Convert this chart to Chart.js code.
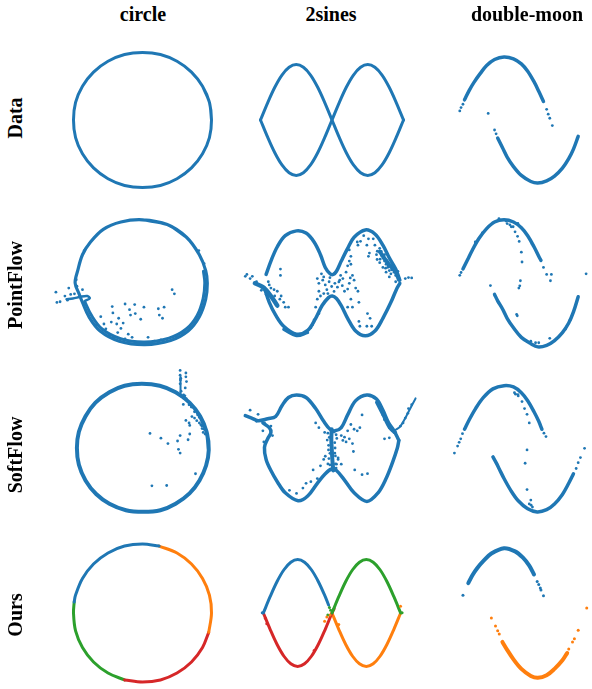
<!DOCTYPE html>
<html>
<head>
<meta charset="utf-8">
<script src="https://cdn.jsdelivr.net/npm/chart.js@4.4.1/dist/chart.umd.min.js"></script>
<style>
  body { margin: 0; background: #fff; width: 592px; height: 689px; position: relative; overflow: hidden; }
  canvas { position: absolute; }
  .lbl { position: absolute; font-family: "Liberation Serif", "Times New Roman", serif; font-weight: bold;
         font-size: 20px; color: #000; white-space: nowrap; transform: translate(-50%, -50%); }
  .rot { transform: translate(-50%, -50%) rotate(-90deg); }
</style>
</head>
<body>
<script>
"use strict";

const BLUE = "#1f77b4", ORANGE = "#ff7f0e", GREEN = "#2ca02c", RED = "#d62728";

const colTitles = ["circle", "2sines", "double-moon"];
const rowTitles = ["Data", "PointFlow", "SoftFlow", "Ours"];

// ---- circle column (unit radius) ----
const circleData = [[1,0],[0.97,0.26],[0.87,0.5],[0.71,0.71],[0.5,0.87],[0.26,0.97],[0,1],[-0.26,0.97],[-0.5,0.87],[-0.71,0.71],[-0.87,0.5],[-0.97,0.26],[-1,0],[-0.97,-0.26],[-0.87,-0.5],[-0.71,-0.71],[-0.5,-0.87],[-0.26,-0.97],[0,-1],[0.26,-0.97],[0.5,-0.87],[0.71,-0.71],[0.87,-0.5],[0.97,-0.26],[1,0],[0.97,0.26],[0.87,0.5]];

const circlePF = [[0,0.975],[0.374,0.902],[0.664,0.706],[0.858,0.436],[0.954,0.191],[0.978,-0.005],[0.954,-0.25],[0.858,-0.52],[0.688,-0.74],[0.423,-0.887],[0.036,-0.951],[-0.35,-0.897],[-0.64,-0.74],[-0.809,-0.52],[-0.906,-0.3],[-0.954,-0.176],[-1.017,0],[-0.978,0.19],[-0.906,0.436],[-0.785,0.632],[-0.592,0.828],[-0.326,0.941],[0,0.975],[0.374,0.902],[0.664,0.706]];
const circlePFInner = [[-0.87,-0.29],[-0.77,-0.5],[-0.61,-0.71],[-0.33,-0.86],[0.03,-0.91],[0.4,-0.85],[0.66,-0.71],[0.825,-0.5],[0.915,-0.24],[0.94,0],[0.92,0.18]];
const circlePFHook = [[-1.147,-0.25],[-1.051,-0.24],[-0.93,-0.211],[-0.833,-0.201],[-0.795,-0.235],[-0.872,-0.279]];
const circlePFDots = [[-1.307,-0.142],[-1.292,-0.299],[-1.244,-0.289],[-1.171,-0.201],[-1.113,-0.078],[-1.084,-0.176],[-0.906,-0.103],[-1.027,-0.167],[-1.133,-0.265],[0.447,-0.103],[0.481,-0.167],[-0.457,-0.363],[-0.263,-0.324],[-0.118,-0.333],[0.022,-0.373],[0.239,-0.397],[0.326,-0.373],[-0.196,-0.412],[-0.109,-0.471],[-0.181,-0.495],[0.254,-0.495],[0.302,-0.544],[-0.447,-0.461],[-0.63,-0.52],[-0.36,-0.544],[-0.389,-0.632],[-0.292,-0.618],[-0.027,-0.559],[-0.582,-0.632],[-0.471,-0.603],[-0.553,-0.706],[-0.326,-0.701],[-0.374,-0.765],[-0.495,-0.799],[-0.215,-0.789],[-0.263,-0.863],[-0.157,-0.838],[0.084,-0.838],[0.181,-0.897],[-0.423,-0.838],[0.278,-0.878],[0.85,0.5],[0.93,0.3],[0.96,-0.1],[0.9,-0.4],[0.62,-0.78],[0.52,-0.82],[-0.88,0.5],[-0.7,-0.65],[-1.0,0.05],[-0.99,-0.05]];

const circleSF = [[1,-0.03],[0.97,0.24],[0.87,0.49],[0.71,0.7],[0.5,0.86],[0.26,0.96],[-0.01,0.99],[-0.27,0.96],[-0.5,0.86],[-0.71,0.7],[-0.86,0.49],[-0.96,0.25],[-0.99,0],[-0.96,-0.26],[-0.86,-0.5],[-0.7,-0.71],[-0.5,-0.86],[-0.25,-0.96],[0.01,-0.985],[0.27,-0.96],[0.5,-0.86],[0.71,-0.7],[0.86,-0.5],[0.96,-0.27],[1,-0.03],[0.97,0.24],[0.87,0.49]];
const circleSFSpike = [[0.577,0.8],[0.575,0.95],[0.573,1.1]];
const circleSFDots = [[0.113,0.225],[0.278,0.152],[0.384,0.069],[0.529,0.108],[0.568,0.191],[0.543,-0.02],[0.568,-0.078],[0.688,0.127],[0.713,0.216],[0.655,0.426],[0.703,0.387],[0.713,0.348],[0.746,0.485],[0.616,0.672],[0.8,-0.397],[0.142,-0.583],[0.365,-0.578],[0.785,0.461],[0.819,0.422],[0.858,0.387],[0.896,0.338],[0.93,0.289],[0.916,0.24],[0.945,0.216],[0.858,0.471],[0.833,0.51],[0.737,0.632],[0.703,0.667],[0.785,0.559],[0.568,1.196],[0.655,1.157],[0.577,1.074],[0.655,1.098],[0.664,1.025],[0.568,0.99],[0.645,0.926],[0.582,0.877],[0.64,0.804],[0.616,0.77],[0.572,1.049],[0.568,1.123],[0.62,0.82],[0.66,0.76],[0.9,0.3],[0.88,0.36]];

const circleOursBlue = [[0.24,0.97],[0,1],[-0.26,0.97],[-0.5,0.87],[-0.71,0.71],[-0.87,0.5],[-0.97,0.26],[-0.99,0.16]];
const circleOursOrange = [[0.24,0.97],[0.5,0.87],[0.71,0.71],[0.87,0.5],[0.97,0.26],[1,0],[0.96,-0.28]];
const circleOursRed = [[0.96,-0.28],[0.87,-0.5],[0.71,-0.71],[0.5,-0.87],[0.26,-0.97],[0,-1],[-0.26,-0.97]];
const circleOursGreen = [[-0.26,-0.97],[-0.5,-0.87],[-0.71,-0.71],[-0.87,-0.5],[-0.97,-0.26],[-1,0],[-0.99,0.16]];

// ---- 2sines column ----
const sinesA = [[-1,0],[-0.9,0.31],[-0.8,0.59],[-0.7,0.81],[-0.6,0.95],[-0.5,1],[-0.4,0.95],[-0.3,0.81],[-0.2,0.59],[-0.1,0.31],[0,0],[0.1,-0.31],[0.2,-0.59],[0.3,-0.81],[0.4,-0.95],[0.5,-1],[0.6,-0.95],[0.7,-0.81],[0.8,-0.59],[0.9,-0.31],[1,0]];
const sinesB = [[-1,0],[-0.9,-0.31],[-0.8,-0.59],[-0.7,-0.81],[-0.6,-0.95],[-0.5,-1],[-0.4,-0.95],[-0.3,-0.81],[-0.2,-0.59],[-0.1,-0.31],[0,0],[0.1,0.31],[0.2,0.59],[0.3,0.81],[0.4,0.95],[0.5,1],[0.6,0.95],[0.7,0.81],[0.8,0.59],[0.9,0.31],[1,0]];

const sinesPFUpper = [[-0.96,0.162],[-0.89,0.414],[-0.797,0.685],[-0.681,0.895],[-0.517,0.985],[-0.378,0.943],[-0.261,0.775],[-0.168,0.535],[-0.098,0.294],[-0.028,0.174],[0.019,0.162],[0.065,0.222],[0.135,0.414],[0.228,0.655],[0.322,0.865],[0.485,1.003],[0.625,0.925],[0.741,0.715],[0.835,0.474],[0.928,0.264],[0.988,0.054]];
const sinesPFLower = [[-0.984,-0.096],[-0.914,-0.366],[-0.821,-0.607],[-0.704,-0.817],[-0.517,-0.967],[-0.354,-0.895],[-0.238,-0.667],[-0.144,-0.426],[-0.051,-0.276],[0.005,-0.246],[0.065,-0.294],[0.135,-0.426],[0.228,-0.667],[0.345,-0.907],[0.485,-0.997],[0.625,-0.907],[0.741,-0.667],[0.858,-0.366],[0.937,-0.126],[0.988,-0.006]];
const sinesPFSmear = [[-1.123,-0.006],[-1.007,-0.078],[-0.89,-0.246],[-0.797,-0.426]];
const sinesPFBottom = [[-0.704,-0.877],[-0.517,-0.997],[-0.354,-0.937]];
const sinesPFBlob = [[0.695,0.595],[0.811,0.384],[0.928,0.204],[0.974,0.066]];
const sinesPFDots = [[-1.263,0.126],[-1.24,0.162],[-1.193,0.084],[-1.161,0.126],[-1.1,0.024],[-0.928,0.024],[-0.914,-0.036],[-0.844,-0.126],[-0.835,-0.246],[-0.797,-0.156],[-0.76,-0.306],[-0.741,-0.246],[-0.704,-0.366],[-0.681,-0.456],[-0.634,-0.456],[-0.751,0.264],[-0.751,0.144],[-0.89,-0.096],[-0.96,-0.216],[-1.03,-0.138],[-0.214,0.084],[-0.191,-0.006],[-0.154,0.174],[-0.135,0.054],[-0.098,-0.036],[-0.075,-0.126],[-0.042,0.024],[-0.005,-0.066],[0.042,-0.006],[0.079,-0.078],[0.112,0.054],[0.158,0.084],[0.182,-0.156],[0.228,-0.114],[0.252,-0.006],[0.266,0.096],[0.298,0.144],[0.322,0.054],[0.345,-0.096],[0.378,-0.156],[0.275,-0.306],[0.228,-0.456],[0.298,-0.456],[-0.191,-0.156],[-0.214,-0.306],[-0.168,-0.246],[-0.121,0.114],[-0.238,-0.456],[-0.191,-0.577],[-0.261,-0.697],[-0.284,-0.787],[-0.308,-0.847],[0.126,0.144],[0.205,0.204],[0.228,0.324],[0.252,0.414],[0.275,0.505],[0.252,0.625],[0.275,0.354],[0.368,0.775],[0.415,0.787],[0.378,0.715],[0.462,0.895],[0.531,0.835],[0.508,0.715],[0.545,0.565],[0.531,0.505],[0.601,0.835],[0.625,0.715],[0.648,0.535],[0.657,0.444],[0.695,0.384],[0.718,0.595],[0.741,0.474],[0.765,0.414],[0.788,0.354],[0.811,0.294],[0.835,0.234],[0.858,0.174],[0.881,0.324],[0.904,0.204],[0.928,0.144],[0.835,0.114],[0.788,0.204],[0.741,0.294],[0.765,0.535],[0.695,0.655],[0.928,0.024],[0.974,0.054],[1.068,0.084],[1.114,0.102],[1.161,0.096],[0.392,-0.366],[0.517,-0.577],[0.555,-0.667],[0.392,-0.727],[0.406,-0.817],[0.508,-0.817],[0.578,-0.817],[-0.06,-0.2],[-0.03,0.1],[0.03,-0.16],[0.1,0.02],[-0.12,-0.2],[0.15,-0.05],[0.72,0.52],[0.76,0.45],[0.8,0.42],[0.85,0.3],[0.87,0.25],[0.9,0.26],[0.82,0.33],[0.78,0.28],[0.7,0.45],[0.66,0.6],[0.95,0.15],[0.96,0.22]];

const sinesSFUpper = [[-1.263,0.613],[-1.17,0.565],[-1.077,0.517],[-0.937,0.553],[-0.821,0.595],[-0.727,0.805],[-0.634,0.955],[-0.517,1.003],[-0.378,0.955],[-0.238,0.745],[-0.121,0.505],[-0.028,0.354],[0.042,0.324],[0.135,0.384],[0.228,0.625],[0.345,0.895],[0.508,1.003],[0.648,0.925],[0.741,0.715],[0.825,0.474],[0.904,0.324],[0.974,0.144]];
const sinesSFLower = [[-1.007,0.474],[-0.914,0.384],[-0.89,0.294],[-0.937,0.174],[-0.984,0.012],[-0.96,-0.216],[-0.89,-0.426],[-0.797,-0.637],[-0.681,-0.847],[-0.494,-0.997],[-0.354,-0.907],[-0.214,-0.667],[-0.098,-0.486],[-0.005,-0.396],[0.065,-0.426],[0.182,-0.607],[0.322,-0.847],[0.508,-1.009],[0.671,-0.847],[0.788,-0.577],[0.881,-0.276],[0.951,-0.006],[0.974,0.144]];
const sinesSFBranch = [[0.904,0.324],[0.998,0.414],[1.091,0.625],[1.217,0.937]];
const sinesSFCore = [[-0.005,0.354],[-0.01,0.15],[-0.005,0.024],[0.005,-0.216],[0.019,-0.426]];
const sinesSFBand = [[0.648,0.865],[0.741,0.625],[0.835,0.384],[0.904,0.294]];
const sinesSFDots = [[-1.193,0.715],[-1.077,0.637],[-1.1,0.505],[-0.984,0.474],[-1.007,0.324],[-0.89,0.414],[-0.867,0.234],[-0.993,0.114],[-0.275,-0.414],[-0.308,-0.637],[-0.378,-0.667],[-0.424,-0.757],[-0.517,-0.859],[-0.62,-0.799],[-0.214,-0.577],[-0.168,-0.336],[-0.121,-0.216],[-0.098,-0.156],[-0.051,-0.036],[0.042,-0.096],[0.089,-0.186],[0.135,-0.306],[0.158,0.144],[0.182,0.204],[0.228,0.324],[0.252,0.174],[0.298,0.084],[0.275,0.444],[0.322,0.354],[0.368,0.324],[0.406,0.384],[0.438,0.625],[0.312,-0.066],[0.331,-0.414],[0.438,-0.505],[0.517,-0.486],[0.765,0.174],[0.835,0.192],[0.928,0.294],[0.998,0.414],[1.035,0.474],[1.068,0.565],[1.105,0.655],[1.161,0.817],[1.114,0.745],[0.741,0.625],[0.765,0.535],[0.835,0.384],[0.695,0.775],[-0.107,0.294],[-0.191,0.384],[-0.238,0.474],[0.089,-0.216],[0.065,-0.306],[0.135,0.234],[0.205,0.114],[-0.04,0.2],[0.04,0.1],[-0.03,-0.1],[0.05,-0.3],[-0.06,0.28],[0.06,0.25],[-0.05,0.05],[0.045,0.0],[-0.045,-0.2],[0.05,-0.15],[-0.06,-0.3],[0.06,-0.38],[-0.07,0.15],[0.07,0.18],[0.03,0.3],[-0.03,-0.32]];

const sinesOursBlue = [[-1,0],[-0.9,0.31],[-0.8,0.59],[-0.7,0.81],[-0.6,0.95],[-0.5,1],[-0.4,0.95],[-0.3,0.81],[-0.2,0.59],[-0.1,0.31],[-0.05,0.15]];
const sinesOursRed = [[-1,0],[-0.9,-0.31],[-0.8,-0.59],[-0.7,-0.81],[-0.6,-0.95],[-0.5,-1],[-0.4,-0.95],[-0.3,-0.81],[-0.2,-0.59],[-0.1,-0.31],[0,0],[0.03,0.08]];
const sinesOursGreen = [[0,0],[0.1,0.31],[0.2,0.59],[0.3,0.81],[0.4,0.95],[0.5,1],[0.6,0.95],[0.7,0.81],[0.8,0.59],[0.9,0.31],[1,0]];
const sinesOursOrange = [[0,0],[0.1,-0.31],[0.2,-0.59],[0.3,-0.81],[0.4,-0.95],[0.5,-1],[0.6,-0.95],[0.7,-0.81],[0.8,-0.59],[0.9,-0.31],[1,0]];
const sinesOursOrangeDots = [[-0.075,-0.077],[-0.107,-0.155],[0.098,-0.214],[-0.028,-0.036],[0.998,0.125]];
const sinesOursGreenDots = [[-0.037,0.101],[-0.061,-0.036],[1.021,0.006],[-0.02,0.05]];
const sinesOursBlueDots = [[-1.016,0.006]];
const sinesOursRedDots = [[-0.97,-0.1],[-0.95,-0.2],[-0.26,-0.7]];

// ---- double-moon column ----
const moonDataUpper = [[-0.827,0.423],[-0.727,0.623],[-0.627,0.79],[-0.493,0.977],[-0.36,1.143],[-0.193,1.27],[0.007,1.323],[0.207,1.283],[0.373,1.177],[0.507,1.023],[0.64,0.803],[0.74,0.603],[0.84,0.39]];
const moonDataLower = [[-0.127,-0.377],[-0.027,-0.577],[0.073,-0.777],[0.207,-0.977],[0.373,-1.163],[0.573,-1.29],[0.72,-1.323],[0.907,-1.277],[1.073,-1.177],[1.24,-1.01],[1.373,-0.81],[1.473,-0.61],[1.573,-0.343]];
const moonDataDots = [[-0.927,0.19],[-0.9,0.26],[-0.86,0.33],[0.907,0.223],[0.94,0.123],[0.973,0.037],[1.027,-0.117],[-0.327,0.137],[-0.193,-0.21],[-0.16,-0.29]];

const moonPFUpper = [[-0.86,0.293],[-0.76,0.493],[-0.66,0.693],[-0.527,0.927],[-0.36,1.14],[-0.193,1.28],[0.007,1.327],[0.207,1.28],[0.373,1.16],[0.507,0.993],[0.64,0.76],[0.74,0.56],[0.787,0.473]];
const moonPFLower = [[-0.193,-0.24],[-0.127,-0.373],[-0.027,-0.54],[0.073,-0.74],[0.207,-0.94],[0.373,-1.14],[0.573,-1.273],[0.72,-1.34],[0.907,-1.307],[1.073,-1.207],[1.24,-1.04],[1.373,-0.84],[1.473,-0.607],[1.573,-0.287]];
const moonPFDots = [[-0.927,0.16],[-0.9,0.22],[0.84,0.327],[0.907,0.18],[1.007,0.18],[0.987,0.047],[0.073,1.247],[0.16,1.18],[0.24,1.073],[0.293,0.98],[0.327,0.873],[0.373,0.647],[0.387,0.44],[0.353,0.047],[0.34,-0.06],[0.32,-0.107],[0.273,-0.66],[0.287,-0.687],[-0.28,-0.053],[1.74,0.193],[0.573,-1.22],[0.673,-1.253],[0.74,-1.253],[0.973,-1.16],[-0.6,0.86],[-0.45,1.05],[-0.1,1.35],[0.05,1.3],[0.12,1.31],[0.3,1.25],[0.6,0.82],[0.13,1.22],[0.2,1.18],[1.4,-0.78],[1.3,-0.97]];

const moonSFUpper = [[-0.827,0.393],[-0.727,0.593],[-0.593,0.827],[-0.427,1.06],[-0.227,1.24],[0.007,1.307],[0.207,1.28],[0.373,1.16],[0.507,0.993],[0.64,0.76],[0.74,0.56],[0.807,0.393]];
const moonSFLower = [[-0.227,-0.187],[-0.16,-0.307],[-0.093,-0.44],[0.007,-0.64],[0.14,-0.873],[0.307,-1.107],[0.507,-1.273],[0.707,-1.34],[0.907,-1.293],[1.073,-1.173],[1.24,-0.973],[1.373,-0.74],[1.473,-0.54]];
const moonSFDots = [[-1.04,-0.107],[-0.973,0.04],[-0.94,0.12],[-0.907,0.193],[-0.87,0.3],[0.85,0.31],[0.893,0.24],[0.227,1.16],[0.307,1.093],[0.387,0.973],[0.44,0.827],[0.493,0.707],[0.54,0.527],[0.493,-0.04],[0.453,-0.32],[0.493,-0.873],[0.573,-1.093],[0.54,-1.173],[0.607,-1.24],[0.58,-1.2],[1.53,-0.43],[1.573,-0.307],[1.62,-0.2],[1.707,-0.007],[0.25,1.13],[0.3,1.12]];

const moonOursUpper = [[-0.747,0.627],[-0.66,0.793],[-0.56,0.94],[-0.427,1.093],[-0.26,1.247],[0.007,1.36],[0.24,1.293],[0.407,1.16],[0.54,0.993],[0.64,0.807]];
const moonOursUpperDots = [[-0.86,0.373],[0.707,0.66],[0.74,0.6],[0.773,0.527],[0.787,0.48],[0.84,0.36]];
const moonOursLower = [[-0.027,-0.607],[0.073,-0.773],[0.207,-0.973],[0.373,-1.173],[0.573,-1.32],[0.72,-1.36],[0.907,-1.307],[1.073,-1.173],[1.24,-0.993],[1.34,-0.84]];
const moonOursLowerDots = [[-0.26,-0.107],[-0.173,-0.273],[-0.127,-0.373],[-0.093,-0.44],[1.373,-0.753],[1.453,-0.607],[1.493,-0.54],[1.573,-0.36],[1.753,0.107]];

// ---- helpers ----
function pts(a) { return a.map(([x, y]) => ({ x, y })); }

function line(data, color, width, tension) {
  return {
    data: pts(data), showLine: true, borderColor: color, backgroundColor: color,
    borderWidth: width, pointRadius: 0, tension: tension == null ? 0.35 : tension,
    borderCapStyle: "round", borderJoinStyle: "round", fill: false, clip: false,
  };
}

function dots(data, color, r) {
  return {
    data: pts(data), showLine: false, pointRadius: r || 1.4, pointBorderWidth: 0,
    pointBackgroundColor: color, backgroundColor: color, clip: false,
  };
}

// layout of the grid (pixels)
const cols = [
  { cx: 142.5, left: 42, width: 201, sx: 69, sy: [67.5, 68, 68, 69] },
  { cx: 332, left: 232, width: 200, sx: 71.5, sy: [55.5, 55.5, 55.5, 56] },
  { cx: 503, left: 440, width: 152, sx: 50, sy: [50, 50, 50, 50] },
];
const rowCy = [119.5, 283, 448, 613];
const HALF = 86;

function panel(col, row, datasets) {
  const c = cols[col], cy = rowCy[row], sy = c.sy[row];
  const cv = document.createElement("canvas");
  cv.width = c.width; cv.height = HALF * 2;
  cv.style.left = c.left + "px"; cv.style.top = (cy - HALF) + "px";
  cv.style.width = c.width + "px"; cv.style.height = HALF * 2 + "px";
  document.body.appendChild(cv);
  new Chart(cv, {
    type: "scatter",
    data: { datasets },
    options: {
      responsive: false, animation: false, devicePixelRatio: 1,
      layout: { padding: 0 },
      plugins: { legend: { display: false }, tooltip: { enabled: false } },
      scales: {
        x: { type: "linear", display: false, min: (c.left - c.cx) / c.sx, max: (c.left + c.width - c.cx) / c.sx },
        y: { type: "linear", display: false, min: -HALF / sy, max: HALF / sy },
      },
    },
  });
}

// circle
panel(0, 0, [line(circleData, BLUE, 3)]);
panel(0, 1, [dots(circlePFDots, BLUE, 1.4), line(circlePFHook, BLUE, 2.5, 0.3), line(circlePF, BLUE, 3.2), line(circlePFInner, BLUE, 3)]);
panel(0, 2, [dots(circleSFDots, BLUE, 1.4), line(circleSFSpike, BLUE, 2, 0), line(circleSF, BLUE, 4)]);
panel(0, 3, [line(circleOursBlue, BLUE, 3), line(circleOursOrange, ORANGE, 3), line(circleOursRed, RED, 3), line(circleOursGreen, GREEN, 3)]);

// 2sines
panel(1, 0, [line(sinesA, BLUE, 3), line(sinesB, BLUE, 3)]);
panel(1, 1, [dots(sinesPFDots, BLUE, 1.4), line(sinesPFSmear, BLUE, 4.5), line(sinesPFBottom, BLUE, 3),
             line(sinesPFBlob, BLUE, 4), line(sinesPFUpper, BLUE, 3.5), line(sinesPFLower, BLUE, 3.5)]);
panel(1, 2, [dots(sinesSFDots, BLUE, 1.4), line(sinesSFBranch, BLUE, 2), line(sinesSFCore, BLUE, 4),
             line(sinesSFBand, BLUE, 3), line(sinesSFUpper, BLUE, 3.5), line(sinesSFLower, BLUE, 3.5)]);
panel(1, 3, [dots(sinesOursOrangeDots, ORANGE, 1.5), dots(sinesOursGreenDots, GREEN, 1.5), dots(sinesOursBlueDots, BLUE, 1.5),
             dots(sinesOursRedDots, RED, 1.5), line(sinesOursBlue, BLUE, 3), line(sinesOursGreen, GREEN, 3),
             line(sinesOursRed, RED, 3), line(sinesOursOrange, ORANGE, 3)]);

// double-moon
panel(2, 0, [dots(moonDataDots, BLUE, 1.4), line(moonDataUpper, BLUE, 3.5), line(moonDataLower, BLUE, 3.5)]);
panel(2, 1, [dots(moonPFDots, BLUE, 1.4), line(moonPFUpper, BLUE, 3.5), line(moonPFLower, BLUE, 3.5)]);
panel(2, 2, [dots(moonSFDots, BLUE, 1.4), line(moonSFUpper, BLUE, 3.5), line(moonSFLower, BLUE, 3.5)]);
panel(2, 3, [dots(moonOursUpperDots, BLUE, 1.5), dots(moonOursLowerDots, ORANGE, 1.5), line(moonOursUpper, BLUE, 4), line(moonOursLower, ORANGE, 4)]);

// titles
const colX = [143, 331, 527];
colTitles.forEach((t, i) => {
  const d = document.createElement("div");
  d.className = "lbl"; d.textContent = t;
  d.style.left = colX[i] + "px"; d.style.top = "14px";
  document.body.appendChild(d);
});
const rowY = [118, 285, 455, 615];
rowTitles.forEach((t, i) => {
  const d = document.createElement("div");
  d.className = "lbl rot"; d.textContent = t;
  d.style.left = "15px"; d.style.top = rowY[i] + "px";
  document.body.appendChild(d);
});
</script>
</body>
</html>
